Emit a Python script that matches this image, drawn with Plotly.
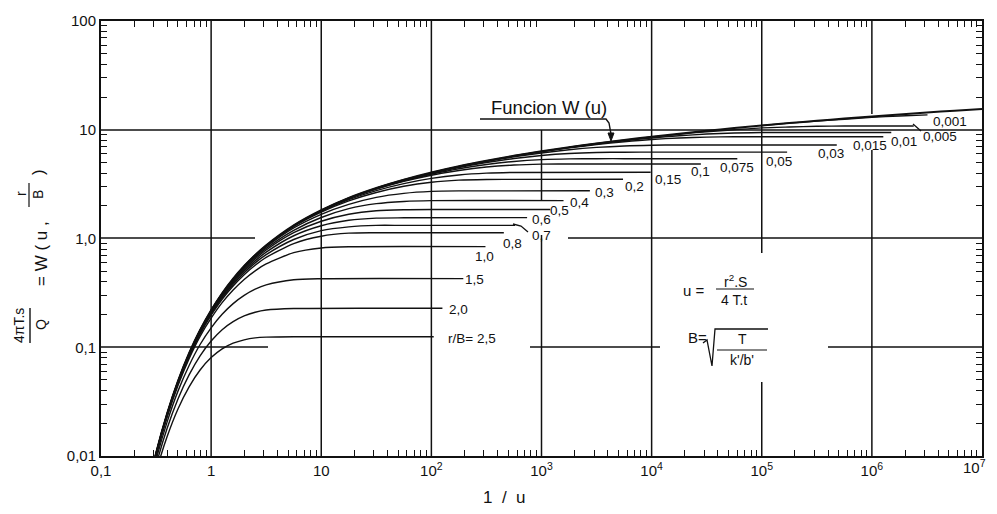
import plotly.graph_objects as go

# ---------------- data (1/u, W(u, r/B)) ----------------
early_inv_u = [0.251, 0.316, 0.398, 0.501, 0.631, 0.794, 1.0, 1.259, 1.585, 1.995, 2.512, 3.162]

wu_x = early_inv_u + [5.623, 10, 17.78, 31.62, 56.23, 100, 177.8, 316.2, 562.3, 1000, 1778, 3162, 5623,
                      1e4, 17780, 31620, 56230, 1e5, 177800, 316200, 562300, 1e6, 1778000, 3162000, 5623000, 1e7]
wu_w = [0.00387, 0.0106, 0.0245, 0.0492, 0.0882, 0.144, 0.219, 0.314, 0.427, 0.558, 0.706, 0.867,
        1.32, 1.82, 2.36, 2.91, 3.47, 4.04, 4.61, 5.18, 5.76, 6.33, 6.91, 7.48, 8.06,
        8.63, 9.21, 9.78, 10.36, 10.94, 11.51, 12.09, 12.66, 13.24, 13.82, 14.39, 14.97, 15.54]

rb_0_001_x = [1e5, 177800, 316200, 562300, 1e6, 1778000, 3200000]
rb_0_001_w = [10.94, 11.51, 12.0, 12.5, 13.0, 13.4, 13.7]

rb_0_005_x = [1778, 3162, 5623, 1e4, 17780, 31620, 56230, 1e5, 177800, 316200, 562300, 2400000]
rb_0_005_w = [6.91, 7.48, 8.02, 8.57, 9.10, 9.60, 10.0, 10.4, 10.6, 10.76, 10.81, 10.83]

rb_0_01_x = [562.3, 1000, 1778, 3162, 5623, 1e4, 17780, 31620, 56230, 1e5, 1500000]
rb_0_01_w = [5.76, 6.33, 6.86, 7.40, 7.92, 8.40, 8.81, 9.13, 9.33, 9.42, 9.44]

rb_0_015_x = [100, 177.8, 316.2, 562.3, 1000, 1778, 3162, 5623, 1e4, 17780, 31620, 56230, 1e5, 1270000]
rb_0_015_w = [4.04, 4.61, 5.16, 5.72, 6.28, 6.81, 7.31, 7.76, 8.14, 8.41, 8.56, 8.62, 8.63, 8.63]

rb_0_03_x = [31.62, 56.23, 100, 177.8, 316.2, 562.3, 1000, 1778, 3162, 5623, 1e4, 17780, 31620, 480000]
rb_0_03_w = [2.91, 3.47, 4.01, 4.57, 5.11, 5.63, 6.12, 6.55, 6.88, 7.10, 7.21, 7.24, 7.25, 7.25]

rb_0_05_x = [10, 17.78, 31.62, 56.23, 100, 177.8, 316.2, 562.3, 1000, 1778, 3162, 5623, 1e4, 170000]
rb_0_05_w = [1.82, 2.36, 2.90, 3.42, 3.97, 4.50, 5.00, 5.44, 5.80, 6.05, 6.18, 6.22, 6.23, 6.23]

rb_0_075_x = [5.623, 10, 17.78, 31.62, 56.23, 100, 177.8, 316.2, 562.3, 1000, 1778, 3162, 5623, 60000]
rb_0_075_w = [1.32, 1.81, 2.34, 2.87, 3.40, 3.90, 4.38, 4.79, 5.11, 5.31, 5.40, 5.42, 5.42, 5.42]

rb_0_1_x = [1.995, 2.512, 3.162, 5.623, 10, 17.78, 31.62, 56.23, 100, 177.8, 316.2, 562.3, 1000, 1778, 28000]
rb_0_1_w = [0.558, 0.706, 0.863, 1.31, 1.80, 2.32, 2.84, 3.35, 3.82, 4.22, 4.54, 4.74, 4.83, 4.85, 4.85]

rb_0_15_x = [1.0, 1.259, 1.585, 1.995, 2.512, 3.162, 5.623, 10, 17.78, 31.62, 56.23, 100, 177.8, 316.2, 562.3, 9800]
rb_0_15_w = [0.219, 0.312, 0.425, 0.555, 0.700, 0.859, 1.30, 1.78, 2.28, 2.76, 3.20, 3.57, 3.84, 3.99, 4.05, 4.06]

rb_0_2_x = early_inv_u + [5.623, 10, 17.78, 31.62, 56.23, 100, 177.8, 316.2, 562.3, 5500]
rb_0_2_w = [0.00387, 0.0106, 0.0245, 0.0492, 0.0878, 0.144, 0.218, 0.311, 0.423, 0.552, 0.696, 0.853,
            1.29, 1.75, 2.22, 2.65, 3.02, 3.29, 3.44, 3.49, 3.50, 3.51]

rb_0_3_x = early_inv_u + [5.623, 10, 17.78, 31.62, 56.23, 100, 177.8, 2750]
rb_0_3_w = [0.00385, 0.0106, 0.0244, 0.0488, 0.0873, 0.143, 0.216, 0.308, 0.418, 0.544, 0.684, 0.835,
            1.25, 1.67, 2.06, 2.39, 2.60, 2.71, 2.74, 2.745]

rb_0_4_x = early_inv_u + [5.623, 10, 17.78, 31.62, 56.23, 100, 1585]
rb_0_4_w = [0.00383, 0.0105, 0.0242, 0.0485, 0.0866, 0.141, 0.214, 0.304, 0.411, 0.533, 0.668, 0.812,
            1.19, 1.56, 1.88, 2.09, 2.19, 2.23, 2.23]

rb_0_5_x = early_inv_u + [5.623, 10, 17.78, 31.62, 56.23, 100, 1200]
rb_0_5_w = [0.00382, 0.0105, 0.0240, 0.0481, 0.0857, 0.139, 0.210, 0.298, 0.402, 0.519, 0.647, 0.783,
            1.13, 1.44, 1.67, 1.80, 1.84, 1.85, 1.85]

rb_0_6_x = early_inv_u + [5.623, 10, 17.78, 31.62, 56.23, 740]
rb_0_6_w = [0.00379, 0.0104, 0.0238, 0.0475, 0.0846, 0.137, 0.206, 0.292, 0.392, 0.503, 0.623, 0.749,
            1.06, 1.31, 1.47, 1.54, 1.55, 1.555]

rb_0_7_x = early_inv_u + [5.623, 10, 17.78, 31.62, 56.23, 575]
rb_0_7_w = [0.00377, 0.0103, 0.0236, 0.0470, 0.0834, 0.135, 0.202, 0.284, 0.380, 0.485, 0.597, 0.711,
            0.979, 1.18, 1.28, 1.32, 1.32, 1.32]

rb_0_8_x = early_inv_u + [5.623, 10, 17.78, 31.62, 455]
rb_0_8_w = [0.00374, 0.0102, 0.0233, 0.0463, 0.0819, 0.132, 0.197, 0.276, 0.366, 0.465, 0.567, 0.670,
            0.899, 1.05, 1.12, 1.13, 1.13]

rb_1_0_x = early_inv_u + [5.623, 10, 17.78, 310]
rb_1_0_w = [0.00367, 0.00996, 0.0227, 0.0447, 0.0786, 0.126, 0.185, 0.257, 0.336, 0.420, 0.504, 0.584,
            0.741, 0.819, 0.840, 0.842]

rb_1_5_x = early_inv_u + [5.623, 10, 195]
rb_1_5_w = [0.00343, 0.00918, 0.0205, 0.0397, 0.0680, 0.106, 0.151, 0.201, 0.252, 0.300, 0.342, 0.375,
            0.418, 0.427, 0.428]

rb_2_0_x = early_inv_u + [5.623, 126]
rb_2_0_w = [0.00313, 0.0082, 0.0179, 0.0336, 0.0557, 0.0833, 0.114, 0.145, 0.172, 0.194, 0.210, 0.220,
            0.227, 0.228]

rb_2_5_x = early_inv_u + [5.623, 105]
rb_2_5_w = [0.00278, 0.0071, 0.0150, 0.0272, 0.0433, 0.0618, 0.0803, 0.0966, 0.109, 0.117, 0.122, 0.124,
            0.125, 0.125]

x_tick_vals = [0.1, 1, 10, 100, 1e3, 1e4, 1e5, 1e6, 1e7]
x_tick_text = ["0,1", "1", "10", "10<sup>2</sup>", "10<sup>3</sup>", "10<sup>4</sup>",
               "10<sup>5</sup>", "10<sup>6</sup>", ""]
x_last_tick_text = "10<sup>7</sup>"   # drawn as annotation so it is not clipped at the right edge
y_tick_vals = [0.01, 0.1, 1, 10, 100]
y_tick_text = ["0,01", "0,1", "1,0", "10", "100"]

curve_labels = ["r/B= 2,5", "2,0", "1,5", "1,0", "0,8", "0,7", "0,6", "0,5", "0,4", "0,3", "0,2",
                "0,15", "0,1", "0,075", "0,05", "0,03", "0,015", "0,01", "0,005", "0,001"]

# ---------------- figure ----------------
OFF = 8                      # page body margin of the html page
WIN_W, WIN_H = 997, 514
L, R, T, B = 101, 982, 21, 456   # plot area in window pixels
FONT = "Liberation Sans"
FIG_W, FIG_H = WIN_W - 2 * OFF, WIN_H - 2 * OFF   # keep the page free of scrollbars


def px(x):
    return (x - L) / (R - L)


def py(y):
    return (B - y) / (B - T)


fig = go.Figure()
series = [(wu_x, wu_w), (rb_0_001_x, rb_0_001_w), (rb_0_005_x, rb_0_005_w), (rb_0_01_x, rb_0_01_w),
          (rb_0_015_x, rb_0_015_w), (rb_0_03_x, rb_0_03_w), (rb_0_05_x, rb_0_05_w),
          (rb_0_075_x, rb_0_075_w), (rb_0_1_x, rb_0_1_w), (rb_0_15_x, rb_0_15_w), (rb_0_2_x, rb_0_2_w),
          (rb_0_3_x, rb_0_3_w), (rb_0_4_x, rb_0_4_w), (rb_0_5_x, rb_0_5_w), (rb_0_6_x, rb_0_6_w),
          (rb_0_7_x, rb_0_7_w), (rb_0_8_x, rb_0_8_w), (rb_1_0_x, rb_1_0_w), (rb_1_5_x, rb_1_5_w),
          (rb_2_0_x, rb_2_0_w), (rb_2_5_x, rb_2_5_w)]
for i, (xs, ws) in enumerate(series):
    fig.add_trace(go.Scatter(x=xs, y=ws, mode="lines",
                             line=dict(color="#111111", width=2.0 if i == 0 else 1.4,
                                       shape="spline", smoothing=0.7),
                             showlegend=False, hoverinfo="skip"))

shapes = []


def seg(x0, y0, x1, y1, w=1.5):
    shapes.append(dict(type="line", xref="paper", yref="paper", x0=px(x0), y0=py(y0), x1=px(x1), y1=py(y1),
                       line=dict(color="#111111", width=w), layer="below"))


def path(points, w=1.3, fill=None):
    d = "M " + " L ".join("%.5f,%.5f" % (px(a), py(b)) for a, b in points)
    if fill:
        d += " Z"
    shapes.append(dict(type="path", xref="paper", yref="paper", path=d,
                       line=dict(color="#111111", width=w), fillcolor=fill if fill else "rgba(0,0,0,0)"))


dec = (R - L) / 8.0
vx = [L + (n + 1) * dec for n in range(8)]
# vertical grid lines (with the gaps of the original)
for xx in (vx[0], vx[1], vx[2], vx[4]):
    seg(xx, T, xx, B)
seg(vx[3], 130, vx[3], 200); seg(vx[3], 235, vx[3], B)
seg(vx[5], T, vx[5], 253); seg(vx[5], 382, vx[5], B)
seg(vx[6], T, vx[6], 114); seg(vx[6], 150, vx[6], B)
# horizontal grid lines
seg(L, 130, R, 130)
seg(L, 238, 255, 238); seg(568, 238, R, 238)
seg(L, 347, 268, 347); seg(530, 347, 660, 347); seg(828, 347, R, 347)

# Funcion W(u) underline + leader
path([(480, 119), (606, 119), (609, 123), (611, 134)], w=1.4)
path([(608, 133), (614, 133), (611, 141)], w=1, fill="#111111")
# leaders for 0,7 and 0,005
path([(513, 224), (521, 226), (528, 232)], w=1.3)
path([(913, 124), (921, 131)], w=1.3)
# formula u = r2 S / 4 T t
seg(716, 289, 754, 289, 1.2)
# B = sqrt(T / (k'/b'))
path([(703, 343), (707, 340), (712, 366), (715, 329), (768, 329)], w=1.3)
seg(717, 350, 767, 350, 1.2)
# y-title fraction bars
seg(30, 308, 30, 343, 1.4)
seg(29, 183, 29, 207, 1.2)

ann = []


def text(s, x, y, size=14, angle=0, xanchor="center"):
    ann.append(dict(text=s, xref="paper", yref="paper", x=px(x), y=py(y), showarrow=False,
                    xanchor=xanchor, yanchor="middle", textangle=angle,
                    font=dict(family=FONT, size=size, color="#111111")))


label_pos = [(472, 338), (458, 309), (474, 279), (484, 256), (512, 243), (541, 235), (541, 220),
             (559, 210), (579, 202), (604, 192), (634, 186), (668, 180), (700, 172), (737, 167),
             (779, 161), (831, 153), (870, 145), (904, 141), (940, 136), (950, 122)]
for s, (x, y) in zip(curve_labels, label_pos):
    text(s, x, y, 13.5)

text(x_last_tick_text, 988, 467, 15, xanchor="right")
text("Funcion\u00a0W\u00a0(u)", 549, 107, 18.5)
text("1\u00a0\u00a0/\u00a0\u00a0u", 504, 497, 17)
text("u =", 694, 290, 15)
text("r<sup>2</sup>.S", 735, 281, 14)
text("4 T.t", 734, 300, 14)
text("B=", 697, 337, 15)
text("T", 742, 339, 14)
text("k'/b'", 742, 360, 14)
# y-axis title, rotated
text("4πT.s", 19, 326, 14, -90)
text("Q", 41, 325, 14, -90)
text("=\u00a0W\u00a0(\u00a0u\u00a0,", 41, 254, 17, -90)
text("r", 21, 194, 14, -90)
text("B", 38, 195, 14, -90)
text(")", 39, 172, 17, -90)

x_minor = [k * 10 ** n for n in range(-1, 7) for k in range(2, 10)]
y_minor = [k * 10 ** n for n in range(-2, 2) for k in range(2, 10)]

fig.update_layout(width=FIG_W, height=FIG_H, autosize=False,
                  margin=dict(l=L - OFF, r=FIG_W - (R - OFF), t=T - OFF, b=FIG_H - (B - OFF), autoexpand=False),
                  plot_bgcolor="white", paper_bgcolor="white", shapes=shapes, annotations=ann,
                  font=dict(family=FONT, color="#111111"))
fig.update_xaxes(type="log", range=[-1, 7], tickmode="array", tickvals=x_tick_vals, ticktext=x_tick_text,
                 ticks="", showgrid=False, zeroline=False, showline=True, linecolor="#111111", linewidth=2,
                 mirror="allticks", automargin=False, ticklabeloverflow="allow",
                 tickfont=dict(family=FONT, size=15, color="#111111"),
                 minor=dict(tickmode="array", tickvals=x_minor, ticks="inside", ticklen=6, tickwidth=1.3,
                            tickcolor="#111111", showgrid=False))
fig.update_yaxes(type="log", range=[-2, 2], tickmode="array", tickvals=y_tick_vals, ticktext=y_tick_text,
                 ticks="", showgrid=False, zeroline=False, showline=True, linecolor="#111111", linewidth=2,
                 mirror="allticks", automargin=False, ticklabeloverflow="allow",
                 tickfont=dict(family=FONT, size=15, color="#111111"),
                 minor=dict(tickmode="array", tickvals=y_minor, ticks="inside", ticklen=6, tickwidth=1.3,
                            tickcolor="#111111", showgrid=False))
fig.write_html("out.html")
